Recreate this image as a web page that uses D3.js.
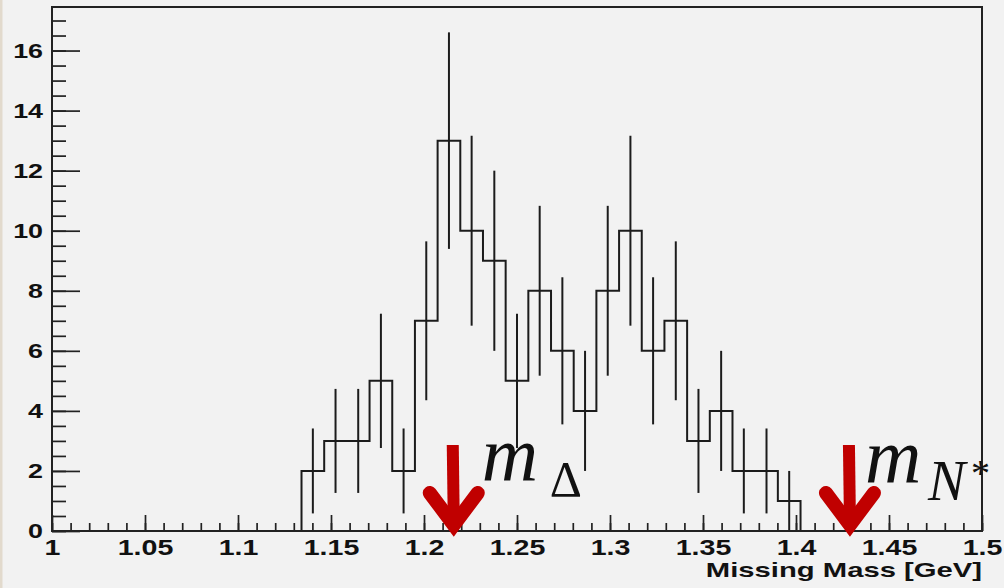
<!DOCTYPE html>
<html>
<head>
<meta charset="utf-8">
<script src="https://cdn.jsdelivr.net/npm/d3@7"></script>
<style>
  html, body { margin: 0; padding: 0; background: #f2f2f2; }
  svg { display: block; }
</style>
</head>
<body>
<svg id="chart" width="1004" height="588"></svg>
<script>
// Missing-mass histogram: 41 equal bins between 1.0 and 1.5 GeV
const binRange = [1.0, 1.5];
const counts = [
  0, 0, 0, 0, 0, 0, 0, 0, 0, 0, 0,
  2, 3, 3, 5, 2, 7, 13, 10, 9, 5, 8,
  6, 4, 8, 10, 6, 7, 3, 4, 2, 2, 1,
  0, 0, 0, 0, 0, 0, 0, 0
];
const xTicks = [1, 1.05, 1.1, 1.15, 1.2, 1.25, 1.3, 1.35, 1.4, 1.45, 1.5];
const yTicks = [0, 2, 4, 6, 8, 10, 12, 14, 16];
const yMax = 17.45;
const xTitle = "Missing Mass [GeV]";

// Resonance masses marked with arrows
const markerMass = [1.216, 1.429];
const markerName = ["Δ", "N"];

const svg = d3.select("#chart");
const W = 1004, H = 588;
const frame = { left: 52, right: 982, top: 7, bottom: 531 };
const ink = "#1c1c1c";

svg.append("rect").attr("width", W).attr("height", H).attr("fill", "#f2f2f2");
svg.append("rect").attr("width", 2.5).attr("height", H).attr("fill", "#e2dacd");

const x = d3.scaleLinear().domain(binRange).range([frame.left, frame.right]);
const y = d3.scaleLinear().domain([0, yMax]).range([frame.bottom, frame.top]);

const nBins = counts.length;
const binWidth = (binRange[1] - binRange[0]) / nBins;
const bins = counts.map((c, i) => ({
  lo: binRange[0] + i * binWidth,
  hi: binRange[0] + (i + 1) * binWidth,
  c
}));

// Minor ticks first, then major ticks with labels
const xMinor = d3.axisBottom(x).tickValues(x.ticks(50)).tickSize(-8).tickFormat("");
const yMinor = d3.axisLeft(y).tickValues(d3.range(0, yMax, 0.5)).tickSize(-14).tickFormat("");
const xMajor = d3.axisBottom(x).tickValues(xTicks).tickSize(-16).tickPadding(8)
  .tickFormat(d => String(d));
const yMajor = d3.axisLeft(y).tickValues(yTicks).tickSize(-28).tickPadding(7)
  .tickFormat(d => String(d));

function styleAxis(g) {
  g.select(".domain").remove();
  g.selectAll(".tick line").attr("stroke", "#222").attr("stroke-width", 1.7);
}

svg.append("g").attr("transform", `translate(0,${frame.bottom})`).call(xMinor).call(styleAxis);
svg.append("g").attr("transform", `translate(${frame.left},0)`).call(yMinor).call(styleAxis);

const gx = svg.append("g").attr("transform", `translate(0,${frame.bottom})`).call(xMajor).call(styleAxis);
gx.selectAll(".tick text")
  .attr("font-family", "'Liberation Sans', Arial, sans-serif")
  .attr("font-weight", "bold").attr("font-size", 22).attr("fill", "#111")
  .attr("transform", "scale(1.3,1)");

const gy = svg.append("g").attr("transform", `translate(${frame.left},0)`).call(yMajor).call(styleAxis);
gy.selectAll(".tick text")
  .attr("font-family", "'Liberation Sans', Arial, sans-serif")
  .attr("font-weight", "bold").attr("font-size", 21).attr("fill", "#111")
  .attr("x", -7)
  .attr("transform", "scale(1.28,1)");

// Step outline of the histogram
const stepPts = bins.map(b => [b.lo, b.c]);
stepPts.push([binRange[1], counts[nBins - 1]]);
const stepLine = d3.line().x(d => x(d[0])).y(d => y(d[1])).curve(d3.curveStepAfter);
svg.append("path")
  .attr("d", stepLine(stepPts))
  .attr("fill", "none").attr("stroke", ink).attr("stroke-width", 2);

// Poisson error bars at bin centres
svg.append("g").selectAll("line")
  .data(bins.filter(b => b.c > 0))
  .join("line")
  .attr("x1", b => x((b.lo + b.hi) / 2)).attr("x2", b => x((b.lo + b.hi) / 2))
  .attr("y1", b => y(b.c - Math.sqrt(b.c))).attr("y2", b => y(b.c + Math.sqrt(b.c)))
  .attr("stroke", ink).attr("stroke-width", 2);

// Frame
svg.append("rect")
  .attr("x", frame.left).attr("y", frame.top)
  .attr("width", frame.right - frame.left).attr("height", frame.bottom - frame.top)
  .attr("fill", "none").attr("stroke", "#222").attr("stroke-width", 2);

// Axis title
svg.append("g")
  .attr("transform", `translate(${frame.right},577) scale(1.5,1)`)
  .append("text")
  .attr("text-anchor", "end")
  .attr("font-family", "'Liberation Sans', Arial, sans-serif")
  .attr("font-weight", "bold").attr("font-size", 19.5).attr("fill", "#111")
  .text(xTitle);

// Arrows pointing at the resonance masses
const red = "#c00000";
const arrows = svg.append("g");
markerMass.forEach(m => {
  const cx = x(m);
  const tipY = frame.bottom + 9;
  arrows.append("line")
    .attr("x1", cx - 1).attr("x2", cx)
    .attr("y1", frame.bottom - 86).attr("y2", tipY - 20)
    .attr("stroke", red).attr("stroke-width", 12);
  arrows.append("path")
    .attr("d", `M${cx - 24},${tipY - 47} L${cx},${tipY - 15} L${cx + 24},${tipY - 47}`)
    .attr("fill", "none").attr("stroke", red).attr("stroke-width", 14)
    .attr("stroke-linecap", "round").attr("stroke-linejoin", "miter");
});

// Mass labels m_Δ and m_N*
const serif = "'Liberation Serif', 'DejaVu Serif', serif";
const lab1 = svg.append("text").attr("font-family", serif).attr("fill", "#111");
lab1.append("tspan").attr("x", x(markerMass[0]) + 28).attr("y", 481)
  .attr("font-style", "italic").attr("font-size", 78).text("m");
lab1.append("tspan").attr("x", x(markerMass[0]) + 96).attr("y", 496)
  .attr("font-size", 50).text(markerName[0]);

const lab2 = svg.append("text").attr("font-family", serif).attr("fill", "#111");
lab2.append("tspan").attr("x", x(markerMass[1]) + 15).attr("y", 483)
  .attr("font-style", "italic").attr("font-size", 78).text("m");
lab2.append("tspan").attr("x", x(markerMass[1]) + 78).attr("y", 500)
  .attr("font-style", "italic").attr("font-size", 56).text(markerName[1]);
lab2.append("tspan").attr("x", x(markerMass[1]) + 121).attr("y", 486)
  .attr("font-size", 38).text("*");
</script>
</body>
</html>
